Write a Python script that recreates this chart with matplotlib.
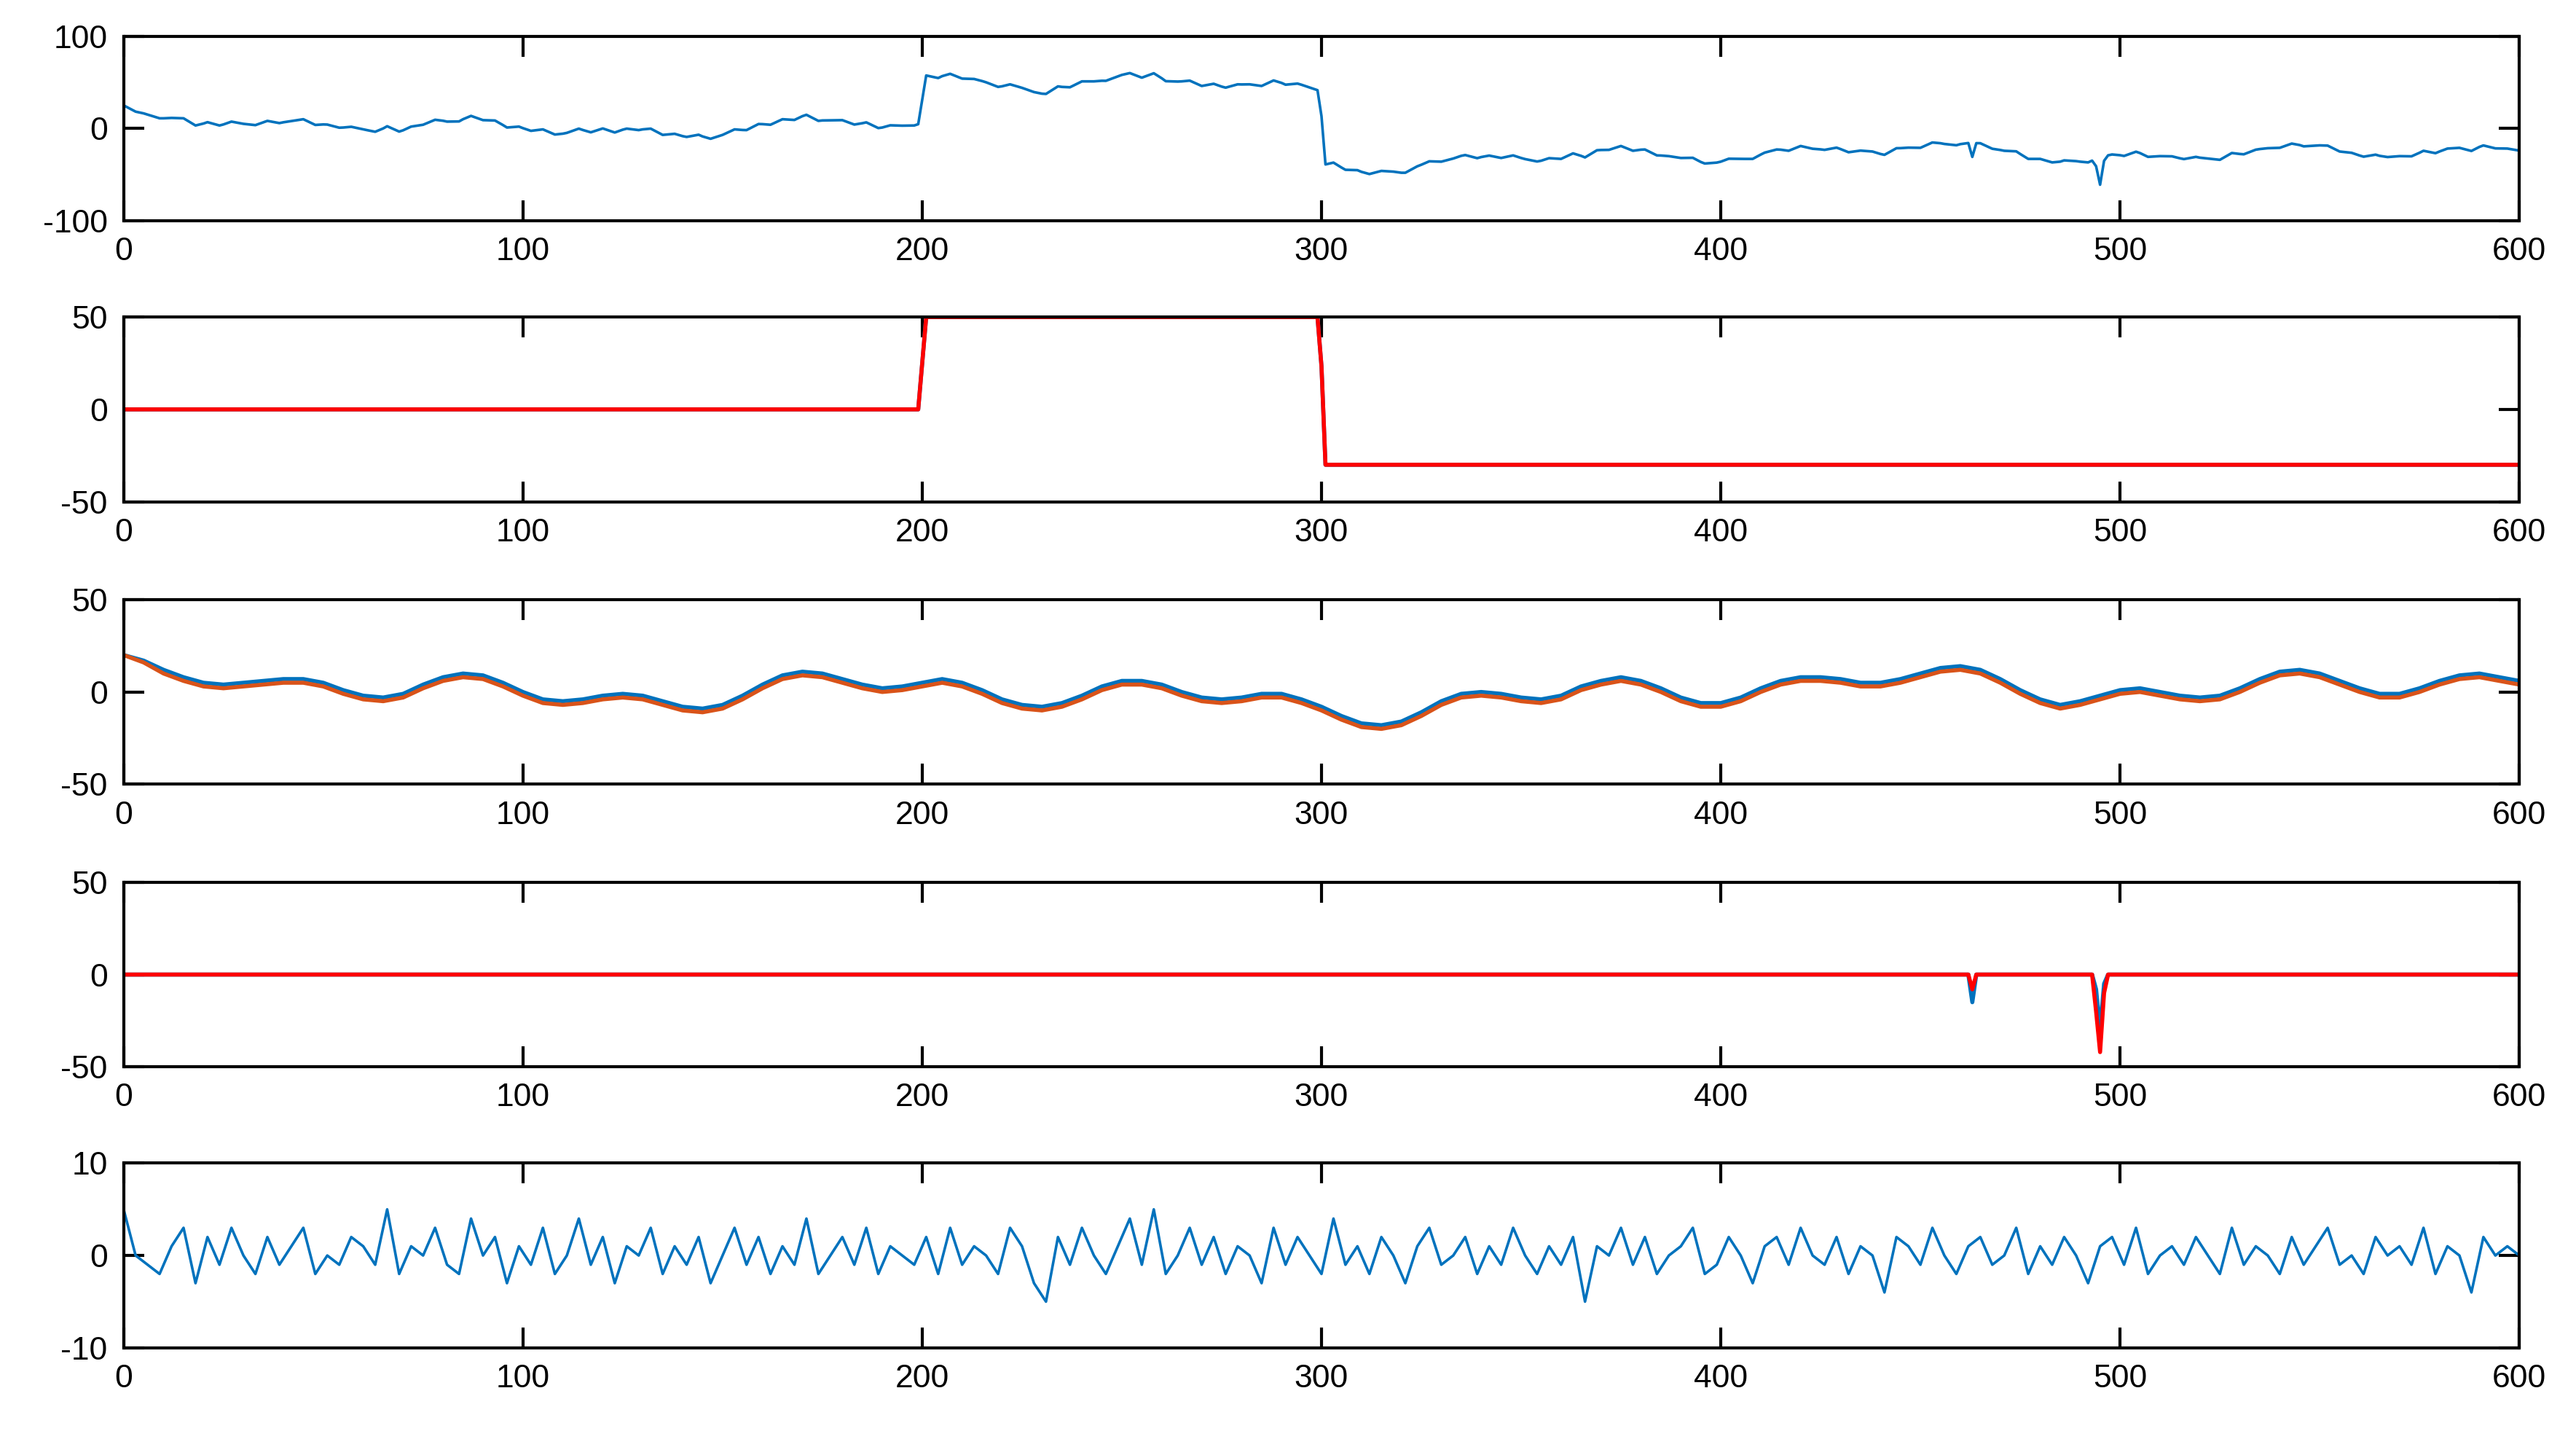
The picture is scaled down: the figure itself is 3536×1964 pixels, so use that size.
import numpy as np
import matplotlib
matplotlib.use("Agg")
import matplotlib.pyplot as plt

plt.rcParams['font.family'] = ['Liberation Sans', 'DejaVu Sans']
plt.rcParams['axes.unicode_minus'] = False

# step component
step_x = [0, 199.5, 200.5, 299.5, 301, 600]
step_y = [0, 0, 50, 50, -30, -30]

# oscillation (blue), sampled every 5
osc_x = list(range(0, 601, 5))
osc_blue = [20,17,12,8,5,4,5,6,7,7,5,1,-2,-3,-1,4,8,10,9,5,0,-4,-5,-4,-2,-1,-2,-5,-8,-9,-7,-2,4,9,11,10,7,4,2,3,
            5,7,5,1,-4,-7,-8,-6,-2,3,6,6,4,0,-3,-4,-3,-1,-1,-4,-8,-13,-17,-18,-16,-11,-5,-1,0,-1,-3,-4,-2,3,6,8,6,2,-3,-6,
            -6,-3,2,6,8,8,7,5,5,7,10,13,14,12,7,1,-4,-7,-5,-2,1,2,0,-2,-3,-2,2,7,11,12,10,6,2,-1,-1,2,6,9,10,8,6]
osc_red = [20,16,10,6,3,2,3,4,5,5,3,-1,-4,-5,-3,2,6,8,7,3,-2,-6,-7,-6,-4,-3,-4,-7,-10,-11,-9,-4,2,7,9,8,5,2,0,1,
           3,5,3,-1,-6,-9,-10,-8,-4,1,4,4,2,-2,-5,-6,-5,-3,-3,-6,-10,-15,-19,-20,-18,-13,-7,-3,-2,-3,-5,-6,-4,1,4,6,4,0,-5,-8,
           -8,-5,0,4,6,6,5,3,3,5,8,11,12,10,5,-1,-6,-9,-7,-4,-1,0,-2,-4,-5,-4,0,5,9,10,8,4,0,-3,-3,0,4,7,8,6,4]

# spikes
spike_x = [0, 462, 463, 464, 493, 494, 495, 496, 497, 600]
spike_blue = [0, 0, -15, 0, 0, -8, -30, -5, 0, 0]
spike_red = [0, 0, -8, 0, 0, -20, -42, -10, 0, 0]

# noise, sampled every 3
noise = [5,0,-1,-2,1,3,-3,2,-1,3,0,-2,2,-1,1,3,-2,0,-1,2,1,-1,5,-2,1,0,3,-1,-2,4,
         0,2,-3,1,-1,3,-2,0,4,-1,2,-3,1,0,3,-2,1,-1,2,-3,0,3,-1,2,-2,1,-1,4,-2,0,
         2,-1,3,-2,1,0,-1,2,-2,3,-1,1,0,-2,3,1,-3,-5,2,-1,3,0,-2,1,4,-1,5,-2,0,3,
         -1,2,-2,1,0,-3,3,-1,2,0,-2,4,-1,1,-2,2,0,-3,1,3,-1,0,2,-2,1,-1,3,0,-2,1,
         -1,2,-5,1,0,3,-1,2,-2,0,1,3,-2,-1,2,0,-3,1,2,-1,3,0,-1,2,-2,1,0,-4,2,1,
         -1,3,0,-2,1,2,-1,0,3,-2,1,-1,2,0,-3,1,2,-1,3,-2,0,1,-1,2,0,-2,3,-1,1,0,
         -2,2,-1,1,3,-1,0,-2,2,0,1,-1,3,-2,1,0,-4,2,0,1,0]
noise_x = list(range(0, 3 * len(noise), 3))

x = np.arange(0, 601)
stp = np.interp(x, step_x, step_y)
ob = np.interp(x, osc_x, osc_blue)
orr = np.interp(x, osc_x, osc_red)
sb = np.interp(x, spike_x, spike_blue)
sr = np.interp(x, spike_x, spike_red)
nz = np.interp(x, noise_x, noise)
total = stp + ob + sb + nz

BLUE = '#0072BD'; RED = '#FF0000'; ORANGE = '#D95319'
fig = plt.figure(figsize=(17.68, 9.82), dpi=200)
left, width, h = 0.048, 0.930, 0.129
tops = [1 - 22/871, 1 - 193/871, 1 - 365/871, 1 - 537/871, 1 - 708/871]
ylims = [(-100, 100), (-50, 50), (-50, 50), (-50, 50), (-10, 10)]
yticks = [[-100, 0, 100], [-50, 0, 50], [-50, 0, 50], [-50, 0, 50], [-10, 0, 10]]
axes = [fig.add_axes([left, t - h, width, h]) for t in tops]

axes[0].plot(x, total, color=BLUE, lw=1.3)
axes[1].plot(x, stp, color=BLUE, lw=2)
axes[1].plot(x, stp, color=RED, lw=2)
axes[2].plot(x, ob, color=BLUE, lw=2)
axes[2].plot(x, orr, color=ORANGE, lw=2)
axes[3].plot(x, sb, color=BLUE, lw=2)
axes[3].plot(x, sr, color=RED, lw=2)
axes[4].plot(x, nz, color=BLUE, lw=1.3)

for ax, yl, yt in zip(axes, ylims, yticks):
    ax.set_xlim(0, 600)
    ax.set_ylim(*yl)
    ax.set_yticks(yt)
    ax.set_xticks(range(0, 601, 100))
    ax.tick_params(direction='in', top=True, right=True, length=10, width=1.5, labelsize=16, pad=8)
    for s in ax.spines.values():
        s.set_linewidth(1.5)

fig.savefig('out.png', dpi=200)
